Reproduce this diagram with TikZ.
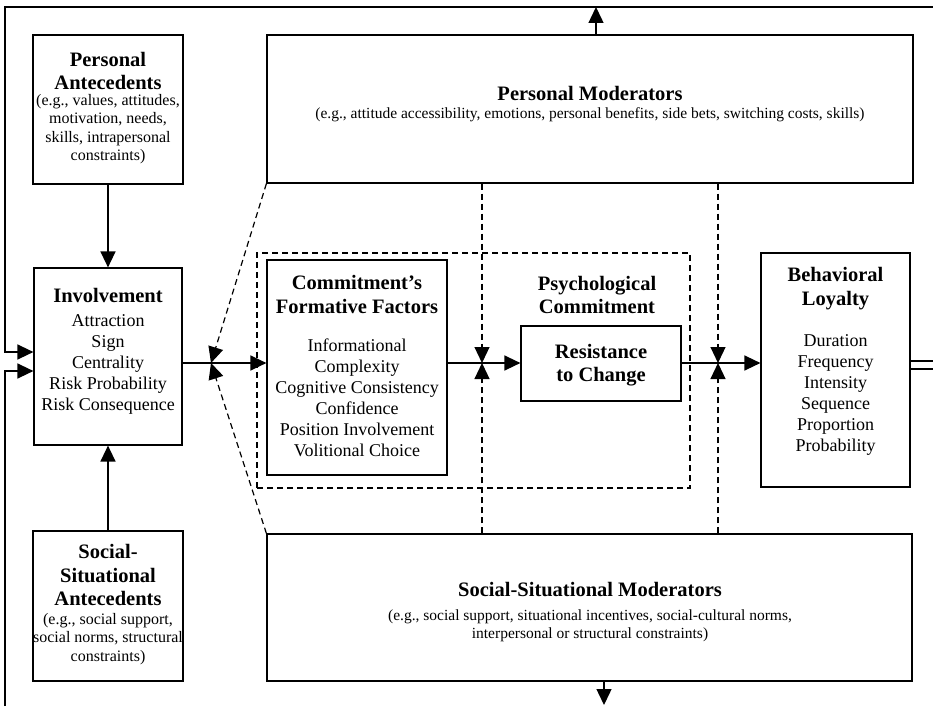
\documentclass[tikz,border=0pt]{standalone}
\usepackage{fontspec}
\setmainfont{Liberation Serif}
\usetikzlibrary{arrows.meta}
\begin{document}
\begin{tikzpicture}[x=1pt,y=-1pt,
  box/.style={draw,line width=1.2pt,inner sep=0pt},
  dbox/.style={draw,line width=1.2pt,inner sep=0pt,dash pattern=on 6pt off 4pt},
  conn/.style={line width=1.4pt,-{Triangle[length=16pt,width=15pt]}},
  plain/.style={line width=1.4pt},
  mod/.style={line width=1.2pt,dash pattern=on 6pt off 4pt,-{Triangle[length=16pt,width=15pt]}},
  ttl/.style={font=\fontsize{20.5}{23.5}\selectfont\bfseries,align=center,inner sep=0pt},
  bdy/.style={font=\fontsize{18}{21}\selectfont,align=center,inner sep=0pt},
  sub/.style={font=\fontsize{16}{18.5}\selectfont,align=center,inner sep=0pt},
  msub/.style={font=\fontsize{15.5}{18}\selectfont,align=center,inner sep=0pt}]
\useasboundingbox[fill=white] (0,0) rectangle (933,706);

% boxes
\node[box,minimum width=150pt,minimum height=149pt] (pa) at (108,109.5) {};
\node[box,minimum width=148pt,minimum height=177pt] (inv) at (108,356.5) {};
\node[box,minimum width=150pt,minimum height=150pt] (ssa) at (108,606) {};
\node[box,minimum width=646pt,minimum height=148pt] (pm) at (590,109) {};
\node[box,minimum width=645pt,minimum height=147pt] (ssm) at (589.5,607.5) {};
\node[dbox,minimum width=433pt,minimum height=235pt] (pc) at (473.5,370.5) {};
\node[box,minimum width=180pt,minimum height=215pt] (cff) at (357,367.5) {};
\node[box,minimum width=160pt,minimum height=75pt] (rtc) at (601,363.5) {};
\node[box,minimum width=149pt,minimum height=234pt] (bl) at (835.5,370) {};

% texts
\node[ttl] (pa-t) at (108,71) {Personal\\Antecedents};
\node[sub] (pa-s) at (108,129) {(e.g., values, attitudes,\\motivation, needs,\\skills, intrapersonal\\constraints)};
\node[ttl] (inv-t) at (108,295) {Involvement};
\node[bdy] (inv-b) at (108,364) {Attraction\\Sign\\Centrality\\Risk Probability\\Risk Consequence};
\node[ttl] (ssa-t) at (108,575) {Social-\\Situational\\Antecedents};
\node[sub] (ssa-s) at (108,639) {(e.g., social support,\\social norms, structural\\constraints)};
\node[ttl] (pm-t) at (590,93) {Personal Moderators};
\node[msub] (pm-s) at (590,115) {(e.g., attitude accessibility, emotions, personal benefits, side bets, switching costs, skills)};
\node[ttl] (ssm-t) at (590,590) {Social-Situational Moderators};
\node[msub] (ssm-s) at (590,626) {(e.g., social support, situational incentives, social-cultural norms,\\interpersonal or structural constraints)};
\node[ttl] (cff-t) at (357,294.5) {Commitment’s\\Formative Factors};
\node[bdy] (cff-b) at (357,397.5) {Informational\\Complexity\\Cognitive Consistency\\Confidence\\Position Involvement\\Volitional Choice};
\node[ttl] (pc-t) at (597,295) {Psychological\\Commitment};
\node[ttl] (rtc-t) at (601,365) {Resistance\\to Change};
\node[ttl] (bl-t) at (835.5,288.5) {Behavioral\\Loyalty};
\node[bdy] (bl-b) at (835.5,395) {Duration\\Frequency\\Intensity\\Sequence\\Proportion\\Probability};

% junctions
\coordinate (j1) at (211,363);
\coordinate (j2) at (482,363);
\coordinate (j3) at (718,363);
\coordinate (tl) at (5,7);
\coordinate (tr) at (933,7);
\coordinate (la) at (5,352);
\coordinate (lb) at (5,371);
\coordinate (lbot) at (5,706);
\coordinate (tp) at (596,7);
\coordinate (bp) at (604,705);
\coordinate (r1) at (933,361);
\coordinate (r2) at (933,369);

% main flow
\draw[conn] (pa) -- (inv);
\draw[conn] (ssa) -- (inv);
\draw[conn] (inv.east |- j1) -- (cff.west |- j1);
\draw[conn] (cff.east |- j1) -- (rtc.west |- j1);
\draw[conn] (rtc.east |- j1) -- (bl.west |- j1);

% moderators
\draw[mod] (pm.south west) -- (j1);
\draw[mod] (ssm.north west) -- (j1);
\draw[mod] (pm.south -| j2) -- (j2);
\draw[mod] (ssm.north -| j2) -- (j2);
\draw[mod] (pm.south -| j3) -- (j3);
\draw[mod] (ssm.north -| j3) -- (j3);

% feedback
\draw[conn] (pm.north -| tp) -- (tp);
\draw[conn] (ssm.south -| bp) -- (bp);
\draw[conn] (tr) -- (tl) -- (la) -- (inv.west |- la);
\draw[conn] (lbot) -- (lb) -- (inv.west |- lb);
\draw[plain] (bl.east |- r1) -- (r1);
\draw[plain] (bl.east |- r2) -- (r2);
\end{tikzpicture}
\end{document}
